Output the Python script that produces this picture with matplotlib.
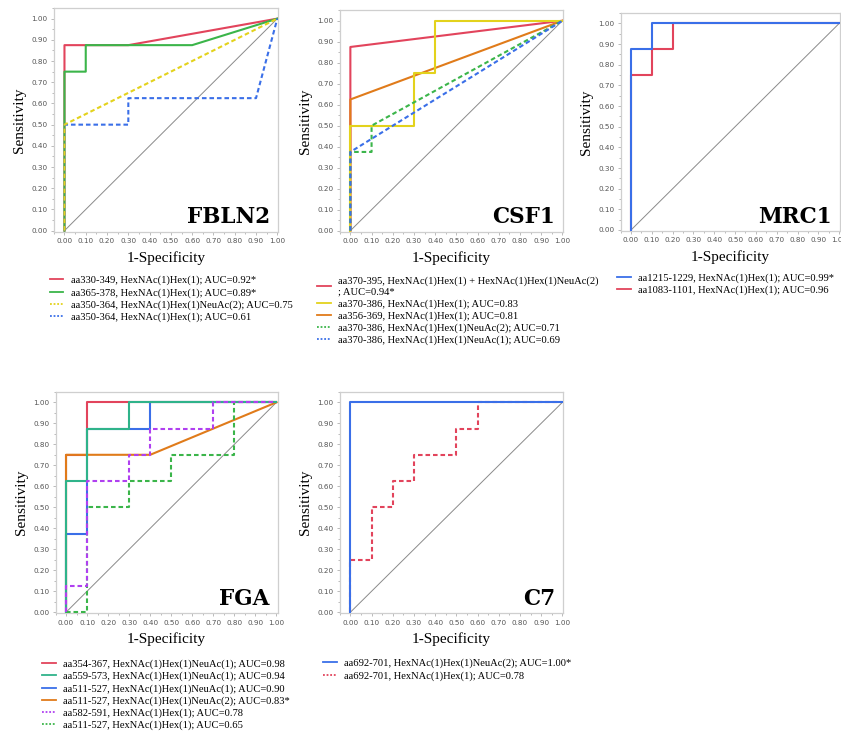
import numpy as np
import matplotlib
matplotlib.use("Agg")
import matplotlib.pyplot as plt
from matplotlib.lines import Line2D
from matplotlib.ticker import MultipleLocator

RED = "#e2445c"
GREEN = "#3bb54a"
YELLOW = "#e3d21c"
ORANGE = "#e07b1a"
BLUE = "#3a6fe8"
PURPLE = "#b040f0"
TEAL = "#2fb38a"

# FBLN2
fbln2_labels = [
    "aa330-349, HexNAc(1)Hex(1); AUC=0.92*",
    "aa365-378, HexNAc(1)Hex(1); AUC=0.89*",
    "aa350-364, HexNAc(1)Hex(1)NeuAc(2); AUC=0.75",
    "aa350-364, HexNAc(1)Hex(1); AUC=0.61",
]
fbln2_fpr = [
    [0, 0, 0.3, 1],
    [0, 0, 0.1, 0.1, 0.6, 1],
    [0, 0, 1],
    [0, 0, 0.3, 0.3, 0.9, 1],
]
fbln2_tpr = [
    [0, 0.875, 0.875, 1],
    [0, 0.75, 0.75, 0.875, 0.875, 1],
    [0, 0.5, 1],
    [0, 0.5, 0.5, 0.625, 0.625, 1],
]

# CSF1
csf1_labels = [
    "aa370-395, HexNAc(1)Hex(1) + HexNAc(1)Hex(1)NeuAc(2)\n; AUC=0.94*",
    "aa370-386, HexNAc(1)Hex(1); AUC=0.83",
    "aa356-369, HexNAc(1)Hex(1); AUC=0.81",
    "aa370-386, HexNAc(1)Hex(1)NeuAc(2); AUC=0.71",
    "aa370-386, HexNAc(1)Hex(1)NeuAc(1); AUC=0.69",
]
csf1_fpr = [
    [0, 0, 1],
    [0, 0, 0.3, 0.3, 0.4, 0.4, 1],
    [0, 0, 1],
    [0, 0, 0.1, 0.1, 1],
    [0, 0, 1],
]
csf1_tpr = [
    [0, 0.875, 1],
    [0, 0.5, 0.5, 0.75, 0.75, 1, 1],
    [0, 0.625, 1],
    [0, 0.375, 0.375, 0.5, 1],
    [0, 0.375, 1],
]

# MRC1
mrc1_labels = [
    "aa1215-1229, HexNAc(1)Hex(1); AUC=0.99*",
    "aa1083-1101, HexNAc(1)Hex(1); AUC=0.96",
]
mrc1_fpr = [
    [0, 0, 0.1, 0.1, 1],
    [0, 0, 0.1, 0.1, 0.2, 0.2, 1],
]
mrc1_tpr = [
    [0, 0.875, 0.875, 1, 1],
    [0, 0.75, 0.75, 0.875, 0.875, 1, 1],
]

# FGA
fga_labels = [
    "aa354-367, HexNAc(1)Hex(1)NeuAc(1); AUC=0.98",
    "aa559-573, HexNAc(1)Hex(1)NeuAc(1); AUC=0.94",
    "aa511-527, HexNAc(1)Hex(1)NeuAc(1); AUC=0.90",
    "aa511-527, HexNAc(1)Hex(1)NeuAc(2); AUC=0.83*",
    "aa582-591, HexNAc(1)Hex(1); AUC=0.78",
    "aa511-527, HexNAc(1)Hex(1); AUC=0.65",
]
fga_fpr = [
    [0, 0, 0.1, 0.1, 1],
    [0, 0, 0.1, 0.1, 0.3, 0.3, 1],
    [0, 0, 0.1, 0.1, 0.4, 0.4, 1],
    [0, 0, 0.4, 1],
    [0, 0, 0.1, 0.1, 0.3, 0.3, 0.4, 0.4, 0.7, 0.7, 1],
    [0, 0.1, 0.1, 0.3, 0.3, 0.5, 0.5, 0.8, 0.8, 1],
]
fga_tpr = [
    [0, 0.75, 0.75, 1, 1],
    [0, 0.625, 0.625, 0.875, 0.875, 1, 1],
    [0, 0.375, 0.375, 0.875, 0.875, 1, 1],
    [0, 0.75, 0.75, 1],
    [0, 0.125, 0.125, 0.625, 0.625, 0.75, 0.75, 0.875, 0.875, 1, 1],
    [0, 0, 0.5, 0.5, 0.625, 0.625, 0.75, 0.75, 1, 1],
]

# C7
c7_labels = [
    "aa692-701, HexNAc(1)Hex(1)NeuAc(2); AUC=1.00*",
    "aa692-701, HexNAc(1)Hex(1); AUC=0.78",
]
c7_fpr = [
    [0, 0, 1],
    [0, 0, 0.1, 0.1, 0.2, 0.2, 0.3, 0.3, 0.5, 0.5, 0.6, 0.6, 1],
]
c7_tpr = [
    [0, 1, 1],
    [0, 0.25, 0.25, 0.5, 0.5, 0.625, 0.625, 0.75, 0.75, 0.875, 0.875, 1, 1],
]

DOT = (0, (2.2, 1.4))

SERIF = ["Liberation Serif", "DejaVu Serif"]


def draw_panel(fig, rect, name, fprs, tprs, labels, colors, styles, zorders, leg_xy):
    ax = fig.add_axes(rect)
    ax.plot([0, 1], [0, 1], color="#8a8a8a", lw=0.7, zorder=1)
    handles = []
    for fp, tp, lab, c, ls, z in zip(fprs, tprs, labels, colors, styles, zorders):
        ax.plot(fp, tp, color=c, ls=ls, lw=1.5, zorder=z)
        # legend keys: solid stays solid, dashed curves get a fine dotted key
        handles.append(Line2D([], [], color=c, lw=1.3,
                              ls="-" if ls == "-" else (0, (1, 1)), label=lab))
    ax.set_xlim(-0.05, 1.005)
    ax.set_ylim(-0.005, 1.05)
    ax.xaxis.set_minor_locator(MultipleLocator(0.05))
    ax.yaxis.set_minor_locator(MultipleLocator(0.05))
    ticks = np.round(np.arange(0, 1.01, 0.1), 2)
    ax.set_xticks(ticks)
    ax.set_yticks(ticks)
    ax.set_xticklabels([f"{t:.2f}" for t in ticks])
    ax.set_yticklabels([f"{t:.2f}" for t in ticks])
    ax.tick_params(which="both", direction="out", colors="#b0b0b0",
                   labelcolor="#555555", labelsize=5.2, width=0.6)
    ax.tick_params(which="major", length=2.5, pad=2)
    ax.tick_params(which="minor", length=1.5)
    for s in ax.spines.values():
        s.set_color("#cfcfcf")
        s.set_linewidth(0.9)
    ax.set_xlabel("1-Specificity", family=SERIF, fontsize=11, labelpad=5)
    ax.set_ylabel("Sensitivity", family=SERIF, fontsize=11, labelpad=4)
    ax.text(0.965, 0.035, name, ha="right", va="baseline", family="DejaVu Serif",
            fontweight="bold", fontsize=15.5, zorder=10)
    fig.legend(handles=handles, loc="upper left", bbox_to_anchor=leg_xy,
               frameon=False, borderpad=0, borderaxespad=0,
               prop={"family": SERIF, "size": 7.6}, handlelength=1.3,
               handletextpad=0.7, labelspacing=0.25)
    return ax


fig = plt.figure(figsize=(8.41, 7.31), dpi=100)

draw_panel(fig, [0.064, 0.683, 0.267, 0.306], "FBLN2", fbln2_fpr, fbln2_tpr,
           fbln2_labels, [RED, GREEN, YELLOW, BLUE], ["-", "-", DOT, DOT],
           [2, 3, 5, 4], (0.059, 0.623))
draw_panel(fig, [0.404, 0.683, 0.266, 0.303], "CSF1", csf1_fpr, csf1_tpr,
           csf1_labels, [RED, YELLOW, ORANGE, GREEN, BLUE], ["-", "-", "-", DOT, DOT],
           [2, 4, 3, 5, 5], (0.377, 0.622))
draw_panel(fig, [0.738, 0.684, 0.261, 0.298], "MRC1", mrc1_fpr, mrc1_tpr,
           mrc1_labels, [BLUE, RED], ["-", "-"], [3, 2], (0.734, 0.626))
draw_panel(fig, [0.066, 0.161, 0.264, 0.303], "FGA", fga_fpr, fga_tpr,
           fga_labels, [RED, TEAL, BLUE, ORANGE, PURPLE, GREEN],
           ["-", "-", "-", "-", DOT, DOT], [2, 5, 3, 4, 7, 6], (0.05, 0.098))
draw_panel(fig, [0.404, 0.161, 0.266, 0.303], "C7", c7_fpr, c7_tpr,
           c7_labels, [BLUE, RED], ["-", DOT], [4, 3], (0.384, 0.099))

fig.savefig("out.png", dpi=100)
